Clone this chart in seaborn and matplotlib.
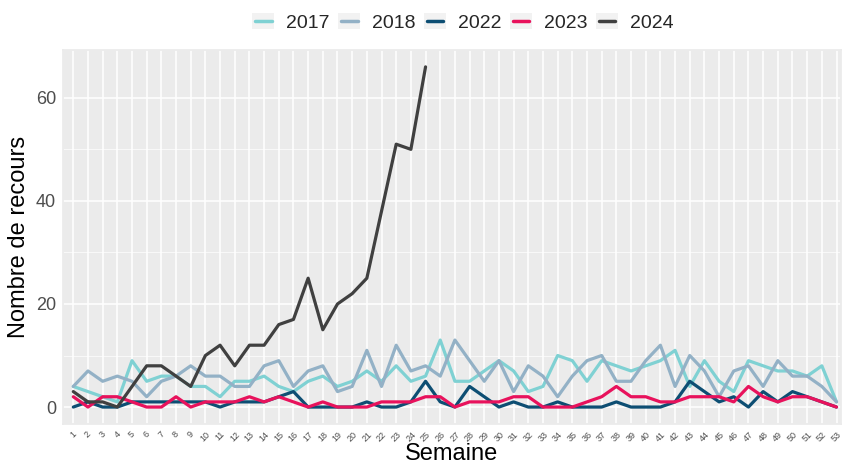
import numpy as np
import pandas as pd
import matplotlib.pyplot as plt
import seaborn as sns
from matplotlib.ticker import MultipleLocator
from matplotlib.patches import Rectangle
from matplotlib.lines import Line2D

# ==========================================
# Data: weekly counts per year
# ==========================================

weeks = list(range(1, 54))

y2017 = [4, 3, 2, 1, 9, 5, 6, 6, 4, 4, 2, 5, 5, 6, 4, 3, 5, 6, 4, 5,
         7, 5, 8, 5, 6, 13, 5, 5, 7, 9, 7, 3, 4, 10, 9, 5, 9, 8, 7, 8,
         9, 11, 4, 9, 5, 3, 9, 8, 7, 7, 6, 8, 1]
y2018 = [4, 7, 5, 6, 5, 2, 5, 6, 8, 6, 6, 4, 4, 8, 9, 4, 7, 8, 3, 4,
         11, 4, 12, 7, 8, 6, 13, 9, 5, 9, 3, 8, 6, 2, 6, 9, 10, 5, 5, 9,
         12, 4, 10, 7, 2, 7, 8, 4, 9, 6, 6, 4, 1]
y2022 = [0, 1, 0, 0, 1, 1, 1, 1, 1, 1, 0, 1, 1, 1, 2, 3, 0, 0, 0, 0,
         1, 0, 0, 1, 5, 1, 0, 4, 2, 0, 1, 0, 0, 1, 0, 0, 0, 1, 0, 0,
         0, 1, 5, 3, 1, 2, 0, 3, 1, 3, 2, 1, 0]
y2023 = [2, 0, 2, 2, 1, 0, 0, 2, 0, 1, 1, 1, 2, 1, 2, 1, 0, 1, 0, 0,
         0, 1, 1, 1, 2, 2, 0, 1, 1, 1, 2, 2, 0, 0, 0, 1, 2, 4, 2, 2,
         1, 1, 2, 2, 2, 1, 4, 2, 1, 2, 2, 1, 0]
y2024 = [3, 1, 1, 0, 4, 8, 8, 6, 4, 10, 12, 8, 12, 12, 16, 17, 25, 15, 20, 22,
         25, 38, 51, 50, 66]

years = ["2017", "2018", "2022", "2023", "2024"]
colors = ["#7FD1D3", "#93B1C6", "#0D4E73", "#E8125C", "#404040"]

frames = []
for year, vals in zip(years, [y2017, y2018, y2022, y2023, y2024]):
    frames.append(pd.DataFrame({
        "Semaine": weeks[:len(vals)],
        "Nombre": vals,
        "Annee": year
    }))
df = pd.concat(frames, ignore_index=True)


# legend key: grey box with a short line, like ggplot
class BoxLineHandler:
    def legend_artist(self, legend, orig_handle, fontsize, handlebox):
        x0, y0 = -handlebox.xdescent, -handlebox.ydescent
        w, h = handlebox.width, handlebox.height
        tr = handlebox.get_transform()
        box = Rectangle((x0, y0), w, h, facecolor="#F2F2F2", edgecolor="none", transform=tr)
        line = Line2D([x0 + 0.12 * w, x0 + 0.88 * w], [y0 + h / 2, y0 + h / 2],
                      color=orig_handle.get_color(), lw=2.5, transform=tr)
        handlebox.add_artist(box)
        handlebox.add_artist(line)
        return line


# ==========================================
# Plot
# ==========================================

sns.set_theme(style="darkgrid", rc={
    "axes.facecolor": "#EBEBEB",
    "grid.color": "white",
    "axes.edgecolor": "#EBEBEB",
})
plt.rcParams['font.family'] = ['Liberation Sans', 'DejaVu Sans']

fig = plt.figure(figsize=(8.46, 4.66), dpi=100)
ax = fig.add_axes([0.0745, 0.09, 0.9195, 0.803])

sns.lineplot(
    data=df,
    x="Semaine",
    y="Nombre",
    hue="Annee",
    hue_order=years,
    palette=dict(zip(years, colors)),
    linewidth=2.3,
    legend=False,
    ax=ax
)

ax.set_xlim(0.3, 53.3)
ax.set_ylim(-3.3, 69.3)
ax.set_xticks(weeks)
ax.set_xticklabels([str(w) for w in weeks], rotation=45, fontsize=6.5, color="#4D4D4D")
ax.yaxis.set_major_locator(MultipleLocator(20))
ax.yaxis.set_minor_locator(MultipleLocator(10))
ax.grid(which="major", color="white", linewidth=1.1)
ax.grid(which="minor", axis="y", color="white", linewidth=0.5)
ax.tick_params(axis="y", labelsize=13, colors="#4D4D4D", length=3, width=0.8,
               color="#333333", pad=2)
ax.tick_params(axis="x", length=3, width=0.8, color="#333333", pad=1)
ax.tick_params(axis="y", which="minor", length=0)
ax.set_xlabel("Semaine", fontsize=17, color="black", labelpad=0)
ax.set_ylabel("Nombre de recours", fontsize=17, color="black", labelpad=4)

handles = [Line2D([], [], color=c, lw=3) for c in colors]
leg = fig.legend(
    handles, years,
    loc="upper center",
    bbox_to_anchor=(0.547, 1.01),
    ncol=5,
    frameon=False,
    fontsize=14,
    handlelength=1.13,
    handleheight=0.93,
    columnspacing=0.45,
    handletextpad=0.6,
    handler_map={Line2D: BoxLineHandler()}
)

plt.savefig("out.png", dpi=100)
